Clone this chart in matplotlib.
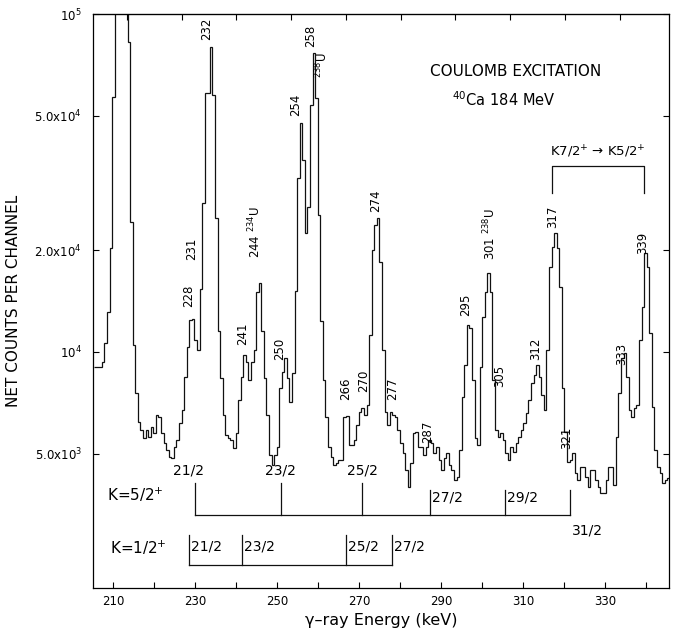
import numpy as np
import matplotlib
matplotlib.use("Agg")
import matplotlib.pyplot as plt
import matplotlib.transforms as mtransforms

# spectrum: counts per channel, channel 0 starts at e0 keV
e0 = 205.39
chan_width = 0.6268
counts = [
    9030, 9030, 9030, 9340, 10600, 13100, 20300, 56800, 130000, 250000,
    350000, 250000, 130000, 82600, 24200, 10500, 7560, 6210, 5880, 5570,
    5880, 5600, 6000, 5760, 6510, 6420, 5760, 5380, 5130, 4890,
    4860, 5240, 5490, 6170, 6740, 8440, 10350, 12400, 12500, 10850,
    10100, 15300, 27600, 58400, 58400, 79900, 57600, 24900, 11500, 8380,
    6510, 5680, 5570, 5490, 5200, 5760, 7210, 8440, 9800, 9340,
    8260, 9340, 10100, 15000, 16000, 11500, 8380, 6510, 4960, 4630,
    4960, 5240, 7830, 8730, 9600, 8380, 7110, 8670, 15100, 32700,
    47600, 37000, 22500, 26900, 53800, 76700, 56400, 25400, 12300, 8260,
    6420, 5240, 4890, 4630, 4690, 4790, 4790, 6420, 6470, 5310,
    5310, 5490, 6080, 6640, 6830, 6510, 6970, 11200, 20000, 23700,
    24900, 18500, 10100, 6640, 6080, 6640, 6510, 6420, 5880, 5380,
    5030, 4480, 3990, 4690, 5760, 5800, 5240, 5240, 4960, 5240,
    5490, 5380, 5030, 5240, 4790, 4480, 4860, 5030, 4630, 4480,
    4180, 4270, 5130, 7360, 9150, 12000, 11800, 8260, 5570, 5310,
    9030, 12700, 15000, 17100, 15000, 8260, 5880, 5600, 5760, 5490,
    5030, 4790, 5240, 5060, 5380, 5600, 5880, 6170, 6600, 7210,
    8100, 8550, 9150, 8440, 7460, 6740, 10100, 17800, 20400, 22500,
    20300, 15600, 7830, 5800, 4730, 4790, 5030, 4390, 4180, 4570,
    4570, 4270, 3990, 4480, 4480, 4180, 3990, 3830, 3830, 4180,
    4570, 4570, 4040, 5600, 7560, 9600, 9930, 8440, 6740, 6420,
    6830, 6970, 10850, 13600, 19600, 17800, 11400, 6880, 5130, 4570,
    4390, 4100, 4180, 4240,
]

# peak labels: text, energy (keV), height as axes fraction
peak_labels = [
    ("228", 228.5, 0.509), ("231", 229.2, 0.591), ("232", 232.9, 0.974),
    ("241", 241.7, 0.443), ("244 $^{234}$U", 244.6, 0.620), ("250", 250.7, 0.416),
    ("254", 254.6, 0.842), ("258", 258.3, 0.962), ("$^{238}$U", 261.0, 0.911),
    ("266", 266.8, 0.347), ("270", 271.2, 0.361), ("274", 274.1, 0.674),
    ("277", 278.3, 0.347), ("287", 286.8, 0.272), ("295", 296.1, 0.493),
    ("301 $^{238}$U", 301.9, 0.617), ("305", 304.4, 0.369), ("312", 313.1, 0.416),
    ("317", 317.3, 0.646), ("321", 320.7, 0.261), ("333", 334.1, 0.408),
    ("339", 339.2, 0.601),
]

# rotational bands (level energies in keV)
k52_energies = [230.0, 250.9, 270.7, 287.3, 305.6, 321.4]
k52_spins = ["21/2", "23/2", "25/2", "27/2", "29/2", "31/2"]
k12_energies = [228.5, 241.4, 266.8, 278.0]
k12_spins = ["21/2", "23/2", "25/2", "27/2"]
interband = [317.0, 339.5]

yticks = [5e3, 1e4, 2e4, 5e4, 1e5]
ytick_labels = ["5.0x10$^3$", "10$^4$", "2.0x10$^4$", "5.0x10$^4$", "10$^5$"]
top_ticks = [213.4, 226.8, 240.0, 253.4, 266.8, 280.2, 293.4, 306.8, 320.2, 333.6]

fig = plt.figure(figsize=(6.88, 6.28), dpi=100)
ax = fig.add_axes([0.1352, 0.0637, 0.8372, 0.914])

edges = e0 + chan_width * np.arange(len(counts) + 1)
ax.stairs(counts, edges, baseline=None, color="#111111", lw=0.9)

ax.set_yscale("log")
ax.set_xlim(205.1, 345.6)
ax.set_ylim(2000, 1e5)
ax.set_yticks(yticks)
ax.set_yticklabels(ytick_labels, fontsize=8.5)
ax.yaxis.set_minor_locator(matplotlib.ticker.NullLocator())
ax.set_xticks(np.arange(210, 331, 20))
ax.set_xticks(np.arange(220, 341, 20), minor=True)
ax.tick_params(axis="x", which="major", labelsize=8.5, pad=5)
ax.tick_params(which="both", direction="in", length=4, width=0.8,
               right=True, top=False)
ax.tick_params(axis="y", pad=8)
for s in ax.spines.values():
    s.set_linewidth(0.9)

top = ax.secondary_xaxis("top")
top.set_xticks(top_ticks)
top.tick_params(direction="in", length=4, width=0.8, labeltop=False)

ax.set_ylabel("NET COUNTS PER CHANNEL", fontsize=11, labelpad=10)
ax.set_xlabel("γ–ray Energy (keV)", fontsize=11.5, labelpad=4)

tr = mtransforms.blended_transform_factory(ax.transData, ax.transAxes)
for txt, e, yf in peak_labels:
    ax.text(e, yf, txt, transform=tr, rotation=90, ha="center", va="center",
            fontsize=8.5)

ax.text(0.7335, 0.899, "COULOMB EXCITATION", transform=ax.transAxes,
        ha="center", va="center", fontsize=11)
ax.text(0.7135, 0.850, "$^{40}$Ca 184 MeV", transform=ax.transAxes,
        ha="center", va="center", fontsize=10.5)
ax.text(0.876, 0.760, "K7/2$^{+}$ → K5/2$^{+}$", transform=ax.transAxes,
        ha="center", va="center", fontsize=9.5)
ax.plot([interband[0], interband[0], interband[1], interband[1]],
        [0.688, 0.735, 0.735, 0.688], transform=tr, color="#111111", lw=0.9)

# K=5/2+ band
lc = "#111111"
ax.text(0.074, 0.162, "K=5/2$^{+}$", transform=ax.transAxes, ha="center",
        va="center", fontsize=11)
ax.plot([k52_energies[0], k52_energies[-1]], [0.127, 0.127], transform=tr,
        color=lc, lw=0.9)
for i, (e, sp) in enumerate(zip(k52_energies, k52_spins)):
    top_y = 0.183 if i < 3 else 0.171
    ax.plot([e, e], [0.127, top_y], transform=tr, color=lc, lw=0.9)
    if i == 0:
        ax.text(e - 1.5, 0.205, sp, transform=tr, ha="center", va="center", fontsize=10)
    elif i < 3:
        ax.text(e, 0.205, sp, transform=tr, ha="center", va="center", fontsize=10)
    elif i < 5:
        ax.text(e + 0.5, 0.158, sp, transform=tr, ha="left", va="center", fontsize=10)
    else:
        ax.text(e + 0.5, 0.101, sp, transform=tr, ha="left", va="center", fontsize=10)

# K=1/2+ band
ax.text(0.078, 0.070, "K=1/2$^{+}$", transform=ax.transAxes, ha="center",
        va="center", fontsize=11)
ax.plot([k12_energies[0], k12_energies[-1]], [0.040, 0.040], transform=tr,
        color=lc, lw=0.9)
for e, sp in zip(k12_energies, k12_spins):
    ax.plot([e, e], [0.040, 0.092], transform=tr, color=lc, lw=0.9)
    ax.text(e + 0.5, 0.073, sp, transform=tr, ha="left", va="center", fontsize=10)

fig.savefig("out.png", dpi=100)
